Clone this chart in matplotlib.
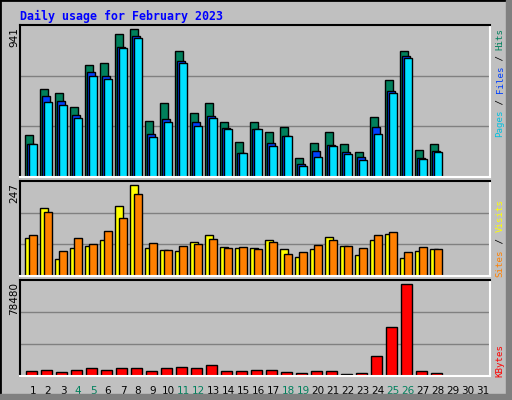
import matplotlib.pyplot as plt
import numpy as np

days = list(range(1, 32))
hits = [267, 560, 534, 445, 712, 725, 909, 941, 356, 471, 801, 407, 471, 350,
        223, 350, 286, 318, 121, 216, 286, 210, 159, 382, 617, 801, 172, 210]
files = [210, 515, 483, 394, 668, 642, 827, 897, 273, 369, 738, 350, 388, 312,
         153, 305, 216, 261, 83, 165, 204, 159, 127, 318, 547, 770, 121, 165]
pages = [210, 477, 458, 375, 642, 623, 820, 884, 254, 350, 725, 324, 375, 305,
         153, 305, 197, 261, 70, 127, 197, 146, 108, 273, 534, 757, 114, 159]
visits = [102, 183, 46, 75, 81, 97, 188, 247, 75, 70, 67, 91, 110, 78,
          75, 75, 97, 72, 51, 72, 105, 81, 56, 97, 113, 48, 67, 72]
sites = [110, 172, 67, 102, 86, 121, 158, 223, 89, 70, 81, 86, 99, 75,
         78, 72, 91, 59, 64, 83, 97, 81, 75, 110, 118, 64, 78, 72]
kbytes = [4580, 5440, 3720, 5440, 7160, 5440, 7160, 7160, 4580, 7160, 8020, 7160, 9740, 4580,
          4580, 5440, 5440, 3720, 2860, 4580, 4580, 2000, 2860, 17470, 41530, 78480, 4580, 2860]
weekend = [4, 5, 11, 12, 18, 19, 25, 26]

BG = '#C0C0C0'
GREEN = '#00805C'
W, H = 512, 400

fig = plt.figure(figsize=(5.12, 4.0), dpi=100, facecolor=BG)

# outer frame
fig.patches.append(plt.Rectangle((0, 0), 1, 1, transform=fig.transFigure, fill=False,
                                 edgecolor='black', lw=2))
fig.patches.append(plt.Rectangle((1 - 6 / W, 0), 6 / W, 1, transform=fig.transFigure,
                                 color='#808080'))
fig.patches.append(plt.Rectangle((0, 0), 1, 6 / H, transform=fig.transFigure,
                                 color='#808080'))

fig.text(20 / W, 1 - 16 / H, 'Daily usage for February 2023', color='#0000FF',
         family='DejaVu Sans Mono', weight='bold', fontsize=8.4, va='center')


def panel(top, bottom, ymax):
    ax = fig.add_axes([20 / W, 1 - bottom / H, 470 / W, (bottom - top) / H])
    ax.set_facecolor(BG)
    ax.set_xlim(0.13, 31.47)
    ax.set_ylim(0, ymax)
    for y in (ymax / 3, ymax * 2 / 3):
        ax.axhline(y, color='#808080', lw=1, zorder=0)
    ax.set_yticks([])
    ax.set_xticks([])
    ax.spines['top'].set_color('black')
    ax.spines['left'].set_color('black')
    ax.spines['bottom'].set_color('white')
    ax.spines['right'].set_color('white')
    for s in ax.spines.values():
        s.set_linewidth(1.5)
    return ax


def vlabel(parts, bottom_px, x_px, step):
    i = 0
    for txt, col in parts:
        fig.text(x_px / W, 1 - (bottom_px - i * step) / H, txt, color=col, rotation=90,
                 family='DejaVu Sans Mono', fontsize=6.6, ha='center', va='bottom')
        i += len(txt)


x = np.arange(1, 29)
ekw = dict(edgecolor='black', linewidth=1, align='edge')

ax1 = panel(25, 177, 941 * 152 / 148)
ax1.bar(x - 0.53, hits, 0.51, color=GREEN, **ekw)
ax1.bar(x - 0.4, files, 0.51, color='#0040FF', **ekw)
ax1.bar(x - 0.27, pages, 0.51, color='#00E0FF', **ekw)
fig.text(14 / W, 1 - 27 / H, '941', rotation=90, fontsize=7.5, ha='center', va='top')
vlabel([('Pages', '#00C0E0'), (' / ', 'black'), ('Files', '#0040FF'), (' / ', 'black'),
        ('Hits', GREEN)], 137, 500, 5.45)

ax2 = panel(181, 276, 247 * 287 / 276)
ax2.bar(x - 0.53, visits, 0.5, color='#FFFF00', **ekw)
ax2.bar(x - 0.27, sites, 0.51, color='#FF8000', **ekw)
fig.text(14 / W, 1 - 183 / H, '247', rotation=90, fontsize=7.5, ha='center', va='top')
vlabel([('Sites', '#FF8000'), (' / ', 'black'), ('Visits', '#FFFF00')], 277, 500, 5.6)

ax3 = panel(280, 376, 78480 * 286 / 274)
ax3.bar(x - 0.47, kbytes, 0.71, color='#FF0000', **ekw)
fig.text(14 / W, 1 - 282 / H, '78480', rotation=90, fontsize=7.5, ha='center', va='top')
vlabel([('KBytes', '#FF0000')], 377, 500, 5.6)

ax3.set_xticks(days)
ax3.set_xticklabels([str(d) for d in days], fontsize=7.5)
ax3.tick_params(axis='x', length=0, pad=7)
for lbl, d in zip(ax3.get_xticklabels(), days):
    lbl.set_color(GREEN if d in weekend else 'black')

fig.savefig('out.png', dpi=100, facecolor=BG)
